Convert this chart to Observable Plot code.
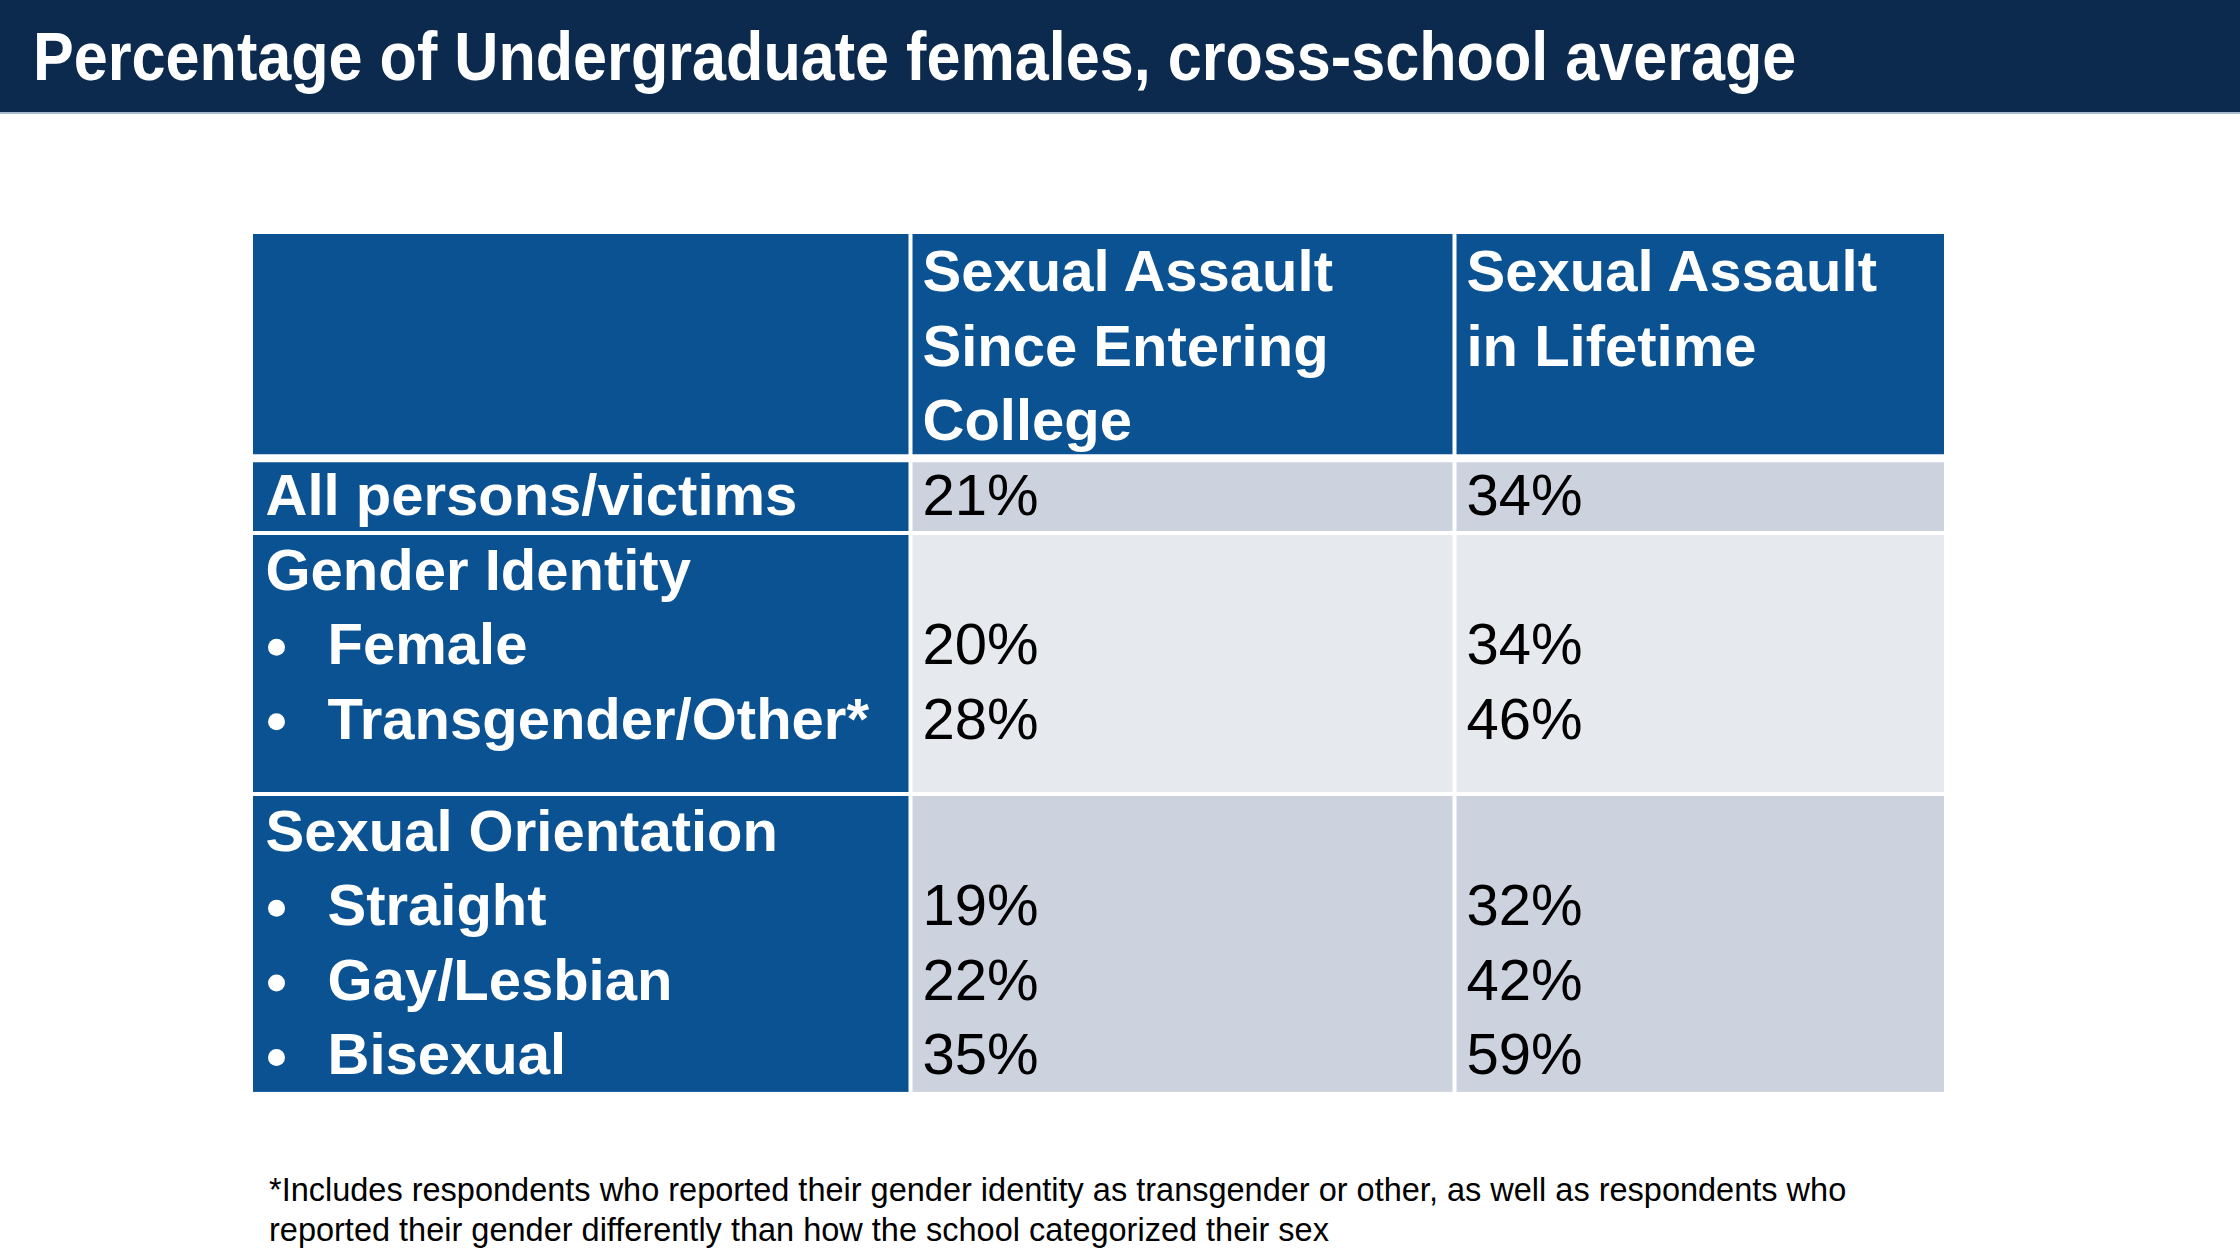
<!DOCTYPE html>
<html>
<head>
<meta charset="utf-8">
<script src="https://cdn.jsdelivr.net/npm/d3@7"></script>
<script src="https://cdn.jsdelivr.net/npm/@observablehq/plot@0.6"></script>
<style>
html, body { margin: 0; padding: 0; background: #ffffff; }
body { width: 2240px; height: 1260px; position: relative; overflow: hidden; font-family: "Liberation Sans", Arial, sans-serif; }
#title { position: absolute; left: 0; top: 0; width: 2240px; height: 112px; background: #0b2a4e; border-bottom: 2px solid #a9bccd; }
#title h1 { position: absolute; left: 33px; top: 22px; margin: 0; font-size: 69px; line-height: 69px; font-weight: bold; color: #ffffff; white-space: nowrap; transform: scaleX(0.886); transform-origin: 0 0; }
#chart { position: absolute; left: 0; top: 114px; }
#note { position: absolute; left: 269px; top: 1170px; margin: 0; font-size: 32.5px; line-height: 40px; color: #000000; white-space: pre; }
</style>
</head>
<body>
<div id="title"><h1 id="titleText"></h1></div>
<div id="chart"></div>
<p id="note"></p>
<script>
// ---------------- data ----------------
const title = "Percentage of Undergraduate females, cross-school average";
const columnHeaders = ["", "Sexual Assault\nSince Entering\nCollege", "Sexual Assault\nin Lifetime"];
const groupNames = ["All persons/victims", "Gender Identity", "Sexual Orientation"];
const rowLabels = ["All persons/victims", "Gender Identity", "Female", "Transgender/Other*",
                   "Sexual Orientation", "Straight", "Gay/Lesbian", "Bisexual"];
const rowGroup = [0, 1, 1, 1, 2, 2, 2, 2];
const rowIsItem = [false, false, true, true, false, true, true, true];
const sinceCollege = [21, null, 20, 28, null, 19, 22, 35];   // %
const lifetime = [34, null, 34, 46, null, 32, 42, 59];       // %
const footnoteLines = [
  "*Includes respondents who reported their gender identity as transgender or other, as well as respondents who",
  "reported their gender differently than how the school categorized their sex"
];

// ---------------- layout / style ----------------
const layout = {
  colWidths: [657, 544, 490],
  headerLines: 3,
  groupLines: [1, 3.5, 4],
  lineHeight: 74.6,
  tableLeft: 253,
  tableTop: 120,
  pad: 12,
  itemPad: 74,
  bulletPad: 23,
  baseline: 0.76,
  bulletRaise: 0.228,
  fontSize: 58
};
const colors = {
  blue: "#0b5292",
  rowDark: "#cdd2df",
  rowLight: "#e6e9ee",
  sep: "#ffffff",
  headText: "#ffffff",
  valText: "#000000"
};

document.getElementById("titleText").textContent = title;
document.getElementById("note").textContent = footnoteLines.join("\n");

// ---------------- derived table geometry (in column / line units) ----------------
const colStart = d3.cumsum([0, ...layout.colWidths]);
const tableWidth = colStart[colStart.length - 1];
const groupStart = d3.cumsum([layout.headerLines, ...layout.groupLines]);
const totalLines = groupStart[groupStart.length - 1];

const cells = [];
columnHeaders.forEach((h, c) => cells.push({x1: colStart[c], x2: colStart[c + 1], y1: 0, y2: layout.headerLines, fill: colors.blue}));
groupNames.forEach((g, gi) => {
  columnHeaders.forEach((h, c) => {
    cells.push({
      x1: colStart[c], x2: colStart[c + 1],
      y1: groupStart[gi], y2: groupStart[gi + 1],
      fill: c === 0 ? colors.blue : (gi === 1 ? colors.rowLight : colors.rowDark)
    });
  });
});

// line index of each row inside its group
const rowLine = rowLabels.map((r, i) => {
  const g = rowGroup[i];
  const first = rowGroup.indexOf(g);
  return groupStart[g] + (i - first);
});

const boldTexts = [];
const plainTexts = [];
const bullets = [];
columnHeaders.forEach((h, c) => {
  if (!h) return;
  h.split("\n").forEach((line, li) => boldTexts.push({x: colStart[c] + layout.pad, y: li + layout.baseline, text: line}));
});
rowLabels.forEach((label, i) => {
  const yb = rowLine[i] + layout.baseline;
  boldTexts.push({x: colStart[0] + (rowIsItem[i] ? layout.itemPad : layout.pad), y: yb, text: label});
  if (rowIsItem[i]) bullets.push({x: colStart[0] + layout.bulletPad, y: yb - layout.bulletRaise});
  if (sinceCollege[i] != null) plainTexts.push({x: colStart[1] + layout.pad, y: yb, text: sinceCollege[i] + "%"});
  if (lifetime[i] != null) plainTexts.push({x: colStart[2] + layout.pad, y: yb, text: lifetime[i] + "%"});
});

const rowSeps = groupStart.slice(1, -1);          // between data groups
const headerSep = [groupStart[0]];                // under header
const colSeps = colStart.slice(1, -1);

const chart = Plot.plot({
  width: 2240,
  height: 1000,
  margin: 0,
  x: {type: "linear", domain: [0, tableWidth], range: [layout.tableLeft, layout.tableLeft + tableWidth], axis: null},
  y: {type: "linear", domain: [0, totalLines], range: [layout.tableTop, layout.tableTop + totalLines * layout.lineHeight], axis: null},
  color: {type: "identity"},
  style: {fontFamily: '"Liberation Sans", Arial, sans-serif', background: "transparent"},
  marks: [
    Plot.rect(cells, {x1: "x1", x2: "x2", y1: "y1", y2: "y2", fill: "fill"}),
    Plot.ruleY(headerSep, {y: d => d, x1: () => 0, x2: () => tableWidth, stroke: colors.sep, strokeWidth: 8}),
    Plot.ruleY(rowSeps, {y: d => d, x1: () => 0, x2: () => tableWidth, stroke: colors.sep, strokeWidth: 4}),
    Plot.ruleX(colSeps, {x: d => d, y1: () => 0, y2: () => totalLines, stroke: colors.sep, strokeWidth: 4}),
    Plot.dot(bullets, {x: "x", y: "y", r: 8.5, fill: colors.headText, stroke: null}),
    Plot.text(boldTexts, {x: "x", y: "y", text: "text", fill: colors.headText, fontSize: layout.fontSize, fontWeight: "bold", textAnchor: "start", lineAnchor: "bottom"}),
    Plot.text(plainTexts, {x: "x", y: "y", text: "text", fill: colors.valText, fontSize: layout.fontSize, textAnchor: "start", lineAnchor: "bottom"})
  ]
});
document.getElementById("chart").appendChild(chart);
</script>
</body>
</html>
